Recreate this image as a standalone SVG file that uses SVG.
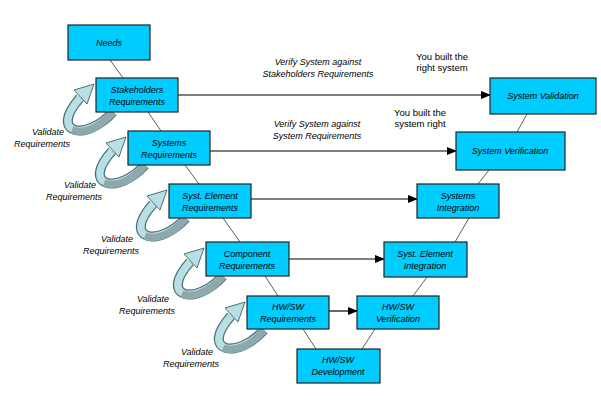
<svg xmlns="http://www.w3.org/2000/svg" xmlns:xlink="http://www.w3.org/1999/xlink" width="601" height="405" viewBox="0 0 601 405">
<style>
.box{fill:#00ccff;stroke:#222;stroke-width:1.2}
.t{font-family:"Liberation Sans",Arial,sans-serif;font-size:9px;font-style:italic;text-anchor:middle;fill:#000}
.n{font-family:"Liberation Sans",Arial,sans-serif;font-size:9.5px;text-anchor:middle;fill:#000}
.l{stroke:#333;stroke-width:0.8;fill:none}
.a{stroke:#000;stroke-width:1.2;fill:none;marker-end:url(#ah)}
</style>
<defs>
<marker id="ah" markerWidth="10" markerHeight="8" refX="9" refY="4" orient="auto" markerUnits="userSpaceOnUse"><path d="M0,0L10,4L0,8z" fill="#000"/></marker>
<g id="loop">
<path d="M17,34 C-10,64 -48,56 -16,20" fill="none" stroke="#4d6f75" stroke-width="10"/>
<path d="M17,34 C-10,64 -48,56 -16,20" fill="none" stroke="#b8dfe5" stroke-width="7.5"/>
<path d="M17,34 C2,52 -14,56 -24,52" fill="none" stroke="#8ea9ae" stroke-width="7.5"/>
<path d="M-22,12 L-2,6 L-9,26 z" fill="#b8dfe5" stroke="#4d6f75" stroke-width="1"/>
</g>
</defs>
<g id="loops">
<use xlink:href="#loop" x="96" y="78"/>
<use xlink:href="#loop" x="128" y="131"/>
<use xlink:href="#loop" x="169" y="184"/>
<use xlink:href="#loop" x="206" y="242"/>
<use xlink:href="#loop" x="247" y="296"/>
</g>
<g id="connectors">
<path class="l" d="M110,60L123,78M148,112L161,131M185,165L199,184M223,218L240,242M265,276L278,296M303,329L316,349M362,349L375,329M413,296L427,277M455,242L469,218M478,184L489,170M517,132L527,114"/>
<path class="a" d="M178,95H490"/>
<path class="a" d="M210,151H456"/>
<path class="a" d="M251,199H417"/>
<path class="a" d="M289,259H384"/>
<path class="a" d="M329,311H357"/>
</g>
<g id="needs"><rect class="box" x="68" y="25" width="82" height="35"/><text class="t" x="109" y="46">Needs</text></g>
<g id="stake"><rect class="box" x="96" y="78" width="82" height="34"/><text class="t" x="137" y="93">Stakeholders</text><text class="t" x="137" y="105">Requirements</text></g>
<g id="sysreq"><rect class="box" x="128" y="131" width="82" height="34"/><text class="t" x="169" y="146">Systems</text><text class="t" x="169" y="158">Requirements</text></g>
<g id="sereq"><rect class="box" x="169" y="184" width="82" height="34"/><text class="t" x="210" y="199">Syst. Element</text><text class="t" x="210" y="211">Requirements</text></g>
<g id="compreq"><rect class="box" x="206" y="242" width="83" height="34"/><text class="t" x="247" y="257">Component</text><text class="t" x="247" y="269">Requirements</text></g>
<g id="hwreq"><rect class="box" x="247" y="296" width="82" height="33"/><text class="t" x="288" y="310">HW/SW</text><text class="t" x="288" y="322">Requirements</text></g>
<g id="hwdev"><rect class="box" x="297" y="349" width="83" height="34"/><text class="t" x="338" y="363">HW/SW</text><text class="t" x="338" y="375">Development</text></g>
<g id="hwver"><rect class="box" x="357" y="296" width="82" height="33"/><text class="t" x="398" y="310">HW/SW</text><text class="t" x="398" y="322">Verification</text></g>
<g id="seint"><rect class="box" x="384" y="242" width="83" height="35"/><text class="t" x="425" y="257">Syst. Element</text><text class="t" x="425" y="269">Integration</text></g>
<g id="sysint"><rect class="box" x="417" y="184" width="82" height="34"/><text class="t" x="458" y="199">Systems</text><text class="t" x="458" y="211">Integration</text></g>
<g id="sysver"><rect class="box" x="456" y="132" width="109" height="38"/><text class="t" x="510" y="154">System Verification</text></g>
<g id="sysval"><rect class="box" x="490" y="78" width="106" height="36"/><text class="t" x="543" y="99">System Validation</text></g>
<g id="labels">
<text class="t" x="48" y="135">Validate</text><text class="t" x="42" y="147">Requirements</text>
<text class="t" x="80" y="188">Validate</text><text class="t" x="74" y="200">Requirements</text>
<text class="t" x="117" y="242">Validate</text><text class="t" x="111" y="254">Requirements</text>
<text class="t" x="153" y="302">Validate</text><text class="t" x="147" y="314">Requirements</text>
<text class="t" x="197" y="355">Validate</text><text class="t" x="191" y="367">Requirements</text>
<text class="t" x="318" y="65">Verify System against</text><text class="t" x="318" y="77">Stakeholders Requirements</text>
<text class="t" x="317" y="127">Verify System against</text><text class="t" x="317" y="139">System Requirements</text>
<text class="n" x="442" y="60">You built the</text><text class="n" x="442" y="71">right system</text>
<text class="n" x="420" y="116">You built the</text><text class="n" x="420" y="127">system right</text>
</g>
</svg>
